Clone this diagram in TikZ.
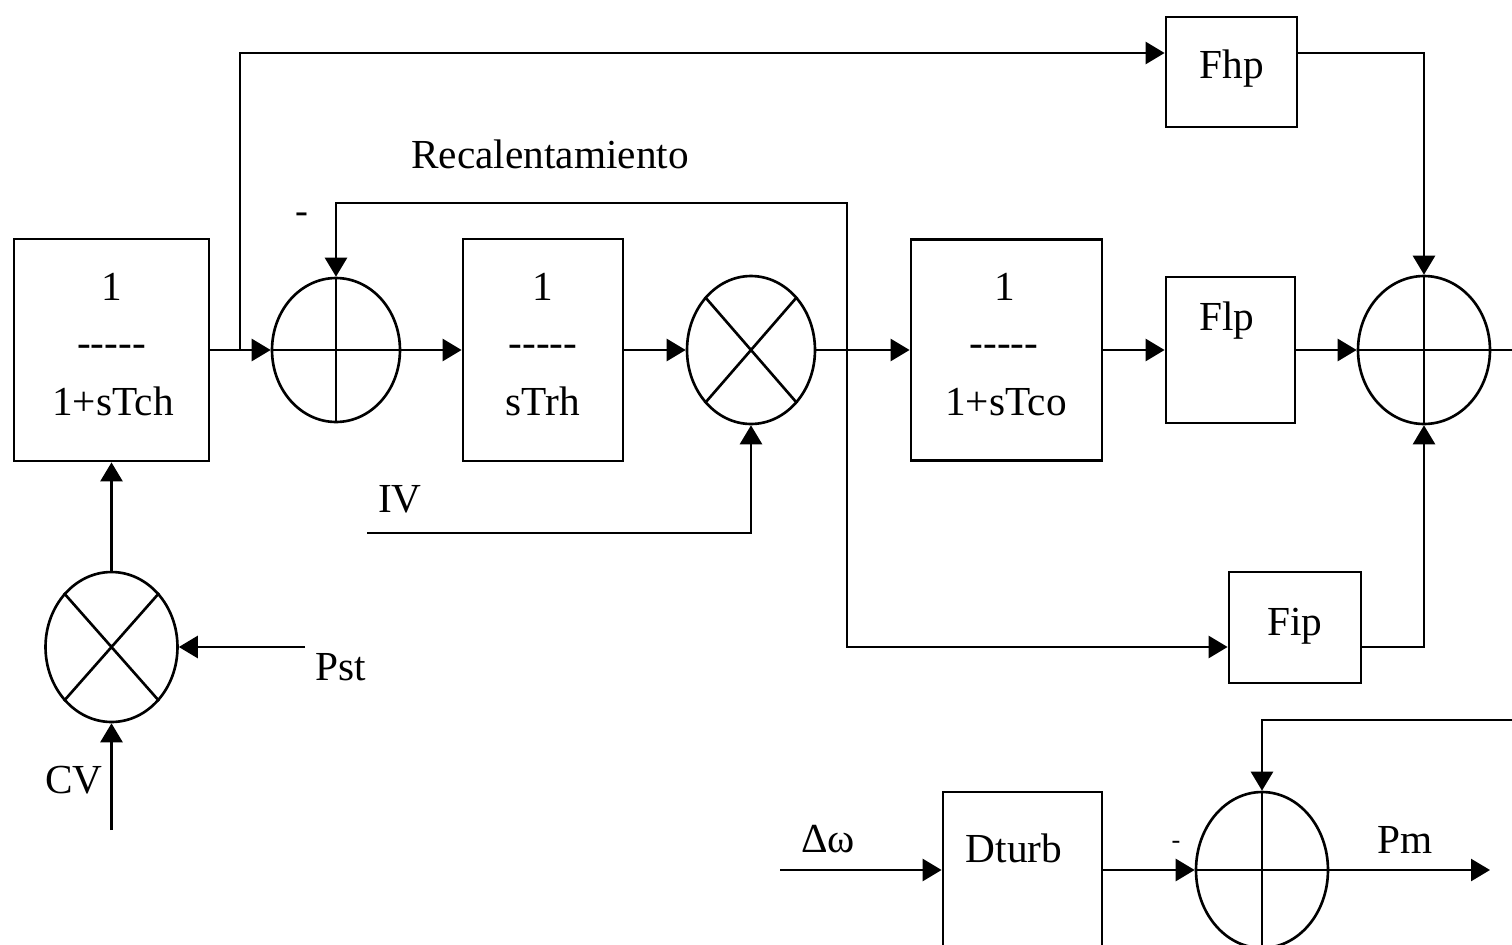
\documentclass[tikz,border=0pt]{standalone}
\usepackage{fontspec}
\setmainfont{Liberation Serif}
\usetikzlibrary{arrows.meta,shapes.geometric,calc}

\begin{document}
\begin{tikzpicture}[x=0.02cm,y=-0.02cm,line width=1.5pt,
    box/.style={draw,line width=1.6pt,inner sep=0pt},
    junc/.style={draw,ellipse,inner sep=0pt},
    flow/.style={-{Triangle[length=0.38cm,width=0.44cm]}},
    txt/.style={inner sep=0pt,anchor=base,font=\fontsize{23.5}{27}\selectfont}]
  \useasboundingbox (0,0) rectangle (1512,944);
  \clip (0,0) rectangle (1512,944);

  %% Blocks
  \node[box,minimum width=3.9cm,minimum height=4.44cm] (tch) at (111.5,350) {};
  \node[box,minimum width=3.2cm,minimum height=4.44cm] (trh) at (543,350) {};
  \node[box,minimum width=3.82cm,minimum height=4.42cm] (tco) at (1006.5,350) {};
  \node[box,minimum width=2.62cm,minimum height=2.2cm] (fhp) at (1231.5,72) {};
  \node[box,minimum width=2.58cm,minimum height=2.92cm] (flp) at (1230.5,350) {};
  \node[box,minimum width=2.64cm,minimum height=2.22cm] (fip) at (1295,627.5) {};
  \node[box,minimum width=3.18cm,minimum height=3.12cm] (dturb) at (1022.5,870) {};

  %% Summing and product junctions
  \node[junc,minimum width=2.56cm,minimum height=2.88cm] (sum1) at (336,350) {};
  \node[junc,minimum width=2.56cm,minimum height=2.96cm] (mul1) at (751,350) {};
  \node[junc,minimum width=2.64cm,minimum height=2.96cm] (sum3) at (1424,350) {};
  \node[junc,minimum width=2.64cm,minimum height=3.0cm] (mul2) at (111.5,647) {};
  \node[junc,minimum width=2.64cm,minimum height=3.12cm] (sum4) at (1262,870) {};
  \foreach \s in {sum1,sum3,sum4}
    \draw (\s.north) -- (\s.south) (\s.west) -- (\s.east);
  \foreach \m in {mul1,mul2}
    \draw (\m.north east) -- (\m.south west) (\m.north west) -- (\m.south east);

  %% Texts
  \node[txt] (tch-n) at (111.5,300) {1};
  \node[txt] (tch-b) at (111.5,356) {-{}-{}-{}-{}-};
  \node[txt] (tch-d) at (113,415) {1+sTch};
  \node[txt] (trh-n) at (543,300) {1};
  \node[txt] (trh-b) at (543,356) {-{}-{}-{}-{}-};
  \node[txt] (trh-d) at (543,415) {sTrh};
  \node[txt] (tco-n) at (1005,300) {1};
  \node[txt] (tco-b) at (1004,356) {-{}-{}-{}-{}-};
  \node[txt] (tco-d) at (1006,415) {1+sTco};
  \node[txt] (fhp-t) at (1232,78) {Fhp};
  \node[txt] (flp-t) at (1227,330) {Flp};
  \node[txt] (fip-t) at (1295,635) {Fip};
  \node[txt] (dturb-t) at (1014,862) {Dturb};
  \node[txt] (rec) at (550,168) {Recalentamiento};
  \node[txt] (iv-t) at (400,512) {IV};
  \node[txt] (pst-t) at (341,680) {Pst};
  \node[txt] (cv-t) at (74,793) {CV};
  \node[txt] (dw-t) at (828,852) {Δω};
  \node[txt] (pm-t) at (1405,853) {Pm};
  \node[txt,font=\fontsize{22}{24}\selectfont] (neg1) at (302,223) {-};
  \node[txt,font=\fontsize{15}{17}\selectfont] (neg2) at (1176,848) {-};

  %% Connectors
  \coordinate (jch) at (240,350);
  \coordinate (jrh) at (847,350);
  \coordinate (rhtop) at (847,203);
  \draw[flow] (tch.east) -- (sum1.west);
  \draw[flow] (jch) |- ([yshift=0.38cm]fhp.west);
  \draw[flow] (sum1.east) -- (trh.west);
  \draw[flow] (trh.east) -- (mul1.west);
  \draw[flow] (mul1.east) -- (tco.west);
  \draw[flow] (jrh) -- (rhtop) -| (sum1.north);
  \draw[flow] (jrh) |- ([yshift=-0.39cm]fip.west);
  \draw[flow] (tco.east) -- (flp.west);
  \draw[flow] (flp.east) -- (sum3.west);
  \draw[flow] ([yshift=0.38cm]fhp.east) -| (sum3.north);
  \draw[flow] ([yshift=-0.39cm]fip.east) -| (sum3.south);
  \coordinate (out) at (1520,350);
  \draw (sum3.east) -- (out);

  \coordinate (iv) at (367,533);
  \draw[flow] (iv) -| (mul1.south);
  \draw[flow] (mul2.north) -- (mul2.north |- tch.south);
  \coordinate (pst) at (305,647);
  \draw[flow] (pst) -- (mul2.east);
  \coordinate (cv) at (111.5,830);
  \draw[flow] (cv) -- (mul2.south);

  \coordinate (dw) at (780,870);
  \draw[flow] (dw) -- (dturb.west);
  \draw[flow] (dturb.east) -- (sum4.west);
  \coordinate (pmfb) at (1520,720);
  \draw[flow] (pmfb) -| (sum4.north);
  \coordinate (pm) at (1490,870);
  \draw[flow] (sum4.east) -- (pm);
\end{tikzpicture}
\end{document}
